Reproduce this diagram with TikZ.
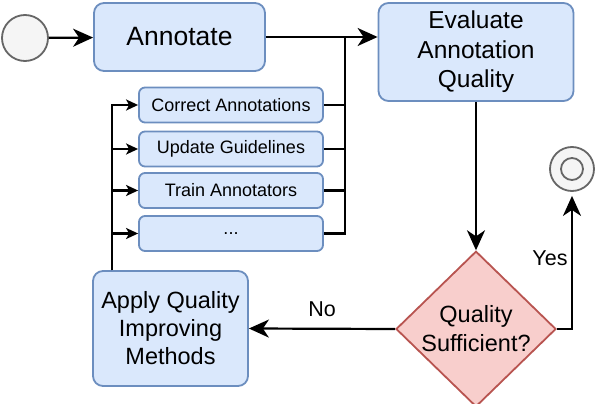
\documentclass[tikz,border=0pt]{standalone}
\usepackage{fontspec}
\setmainfont{Liberation Sans}
\usetikzlibrary{shapes.geometric,arrows.meta}
\definecolor{boxfill}{HTML}{DAE8FC}
\definecolor{boxline}{HTML}{6C8EBF}
\definecolor{decfill}{HTML}{F8CECC}
\definecolor{decline}{HTML}{B85450}
\definecolor{termfill}{HTML}{F5F5F5}
\definecolor{termline}{HTML}{666666}
\begin{document}
\begin{tikzpicture}[x=1pt,y=-1pt,
    box/.style={draw=boxline,fill=boxfill,line width=1.8pt,rounded corners=10pt,
      align=center,inner sep=0pt,font=\fontsize{23.5}{28}\selectfont},
    small/.style={box,rounded corners=6pt,minimum width=184pt,minimum height=35pt,
      font=\fontsize{18}{21}\selectfont},
    decision/.style={diamond,draw=decline,fill=decfill,line width=1.8pt,align=center,
      inner sep=0pt,minimum width=160pt,minimum height=150pt,font=\fontsize{23.5}{29}\selectfont},
    term/.style={circle,draw=termline,fill=termfill,line width=1.8pt,inner sep=0pt},
    line/.style={line width=2.2pt},
    arr/.style={line,-{Stealth[length=20pt,width=18pt,inset=6pt]}},
    smallarr/.style={line,-{Stealth[length=12pt,width=11pt,inset=3pt]}},
    lbl/.style={font=\fontsize{21.5}{24}\selectfont}]
  \useasboundingbox (0,0) rectangle (598,404);
  % nodes
  \node (start) at (25,38) [term,minimum size=46pt] {};
  \node (annotate) at (179.5,37) [box,minimum width=171pt,minimum height=68pt,
    font=\fontsize{26.5}{30}\selectfont] {Annotate};
  \node (evaluate) at (476,52) [box,minimum width=195pt,minimum height=98pt,
    font=\fontsize{24.5}{29.5}\selectfont] {Evaluate\\Annotation\\Quality};
  \node (correct) at (231,105) [small] {Correct Annotations};
  \node (update) at (231,149) [small] {Update Guidelines};
  \node (train) at (231,190.5) [small] {Train Annotators};
  \node (other) at (231,233.5) [small] {...};
  \node (apply) at (170.5,328.5) [box,minimum width=155pt,minimum height=115pt]
    {Apply Quality\\Improving\\Methods};
  \node (check) at (476,329) [decision] {Quality\\Sufficient?};
  \node (finish) at (572,169) [term,minimum size=44pt] {};
  \node (finishin) at (finish) [term,minimum size=22pt] {};
  \coordinate (join) at (345,38);
  \coordinate (back) at ([xshift=20pt]apply.north west);
  % connectors
  \draw[arr] (start) -- (annotate);
  \draw[arr] (annotate.east) -- (annotate.east -| evaluate.west);
  \foreach \b in {correct,update,train,other}
    \draw[line] (\b.east) -| (join);
  \foreach \b in {correct,update,train,other}
    \draw[smallarr] (back) |- (\b.west);
  \draw[arr] (evaluate) -- (check);
  \draw[arr,shorten >=4pt] (check.east) -| node[lbl,left,pos=0.76] {Yes} (finish.south);
  \draw[arr] (check.west) -- node[lbl,above=8pt] {No} (apply.east);
\end{tikzpicture}
\end{document}
